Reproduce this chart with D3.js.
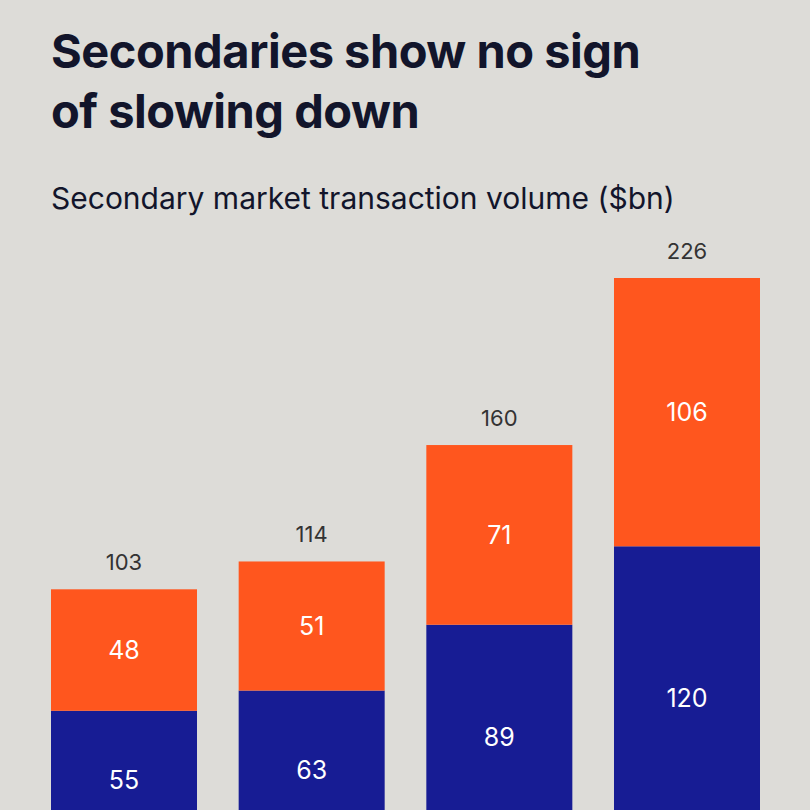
<!DOCTYPE html>
<html><head><meta charset="utf-8">
<script src="https://cdn.jsdelivr.net/npm/d3@7"></script>
<style>body{margin:0;background:#dddcd8}</style></head>
<body><svg id="c" width="810" height="810"></svg>
<script>
const categories = ["2020","2021","2022","2023"];
const lower = [55,63,89,120];
const upper = [48,51,71,106];
const totals = [103,114,160,226];

const svg = d3.select("#c");
svg.append("rect").attr("width",810).attr("height",810).attr("fill","#dddcd8");
const font = "Inter, 'Noto Sans', sans-serif";
svg.append("text").attr("x",51).attr("y",68).attr("font-family",font).attr("font-weight",700)
  .attr("font-size",47).attr("fill","#12152b").attr("letter-spacing",-0.5).text("Secondaries show no sign");
svg.append("text").attr("x",51).attr("y",128).attr("font-family",font).attr("font-weight",700)
  .attr("font-size",47).attr("fill","#12152b").attr("letter-spacing",-0.5).text("of slowing down");
svg.append("text").attr("x",51).attr("y",209).attr("font-family",font)
  .attr("font-size",30).attr("fill","#12152b").text("Secondary market transaction volume ($bn)");

const x = d3.scaleBand().domain(categories).range([51,760]).paddingInner(0.222).paddingOuter(0);
const y = d3.scaleLinear().domain([0,226]).range([850,278]);

const g = svg.append("g");
categories.forEach((c,i)=>{
  const bx = x(c), w = x.bandwidth();
  g.append("rect").attr("x",bx).attr("width",w).attr("y",y(lower[i])).attr("height",y(0)-y(lower[i])).attr("fill","#171c94");
  g.append("rect").attr("x",bx).attr("width",w).attr("y",y(totals[i])).attr("height",y(lower[i])-y(totals[i])).attr("fill","#ff561e");
  g.append("text").attr("x",bx+w/2).attr("y",y(totals[i])-19).attr("text-anchor","middle")
    .attr("font-family",font).attr("font-size",22).attr("fill","#333").text(totals[i]);
  g.append("text").attr("x",bx+w/2).attr("y",(y(lower[i])+y(totals[i]))/2+9).attr("text-anchor","middle")
    .attr("font-family",font).attr("font-size",25).attr("fill","#fff").text(upper[i]);
  g.append("text").attr("x",bx+w/2).attr("y",(y(0)+y(lower[i]))/2+9).attr("text-anchor","middle")
    .attr("font-family",font).attr("font-size",25).attr("fill","#fff").text(lower[i]);
});
</script></body></html>
